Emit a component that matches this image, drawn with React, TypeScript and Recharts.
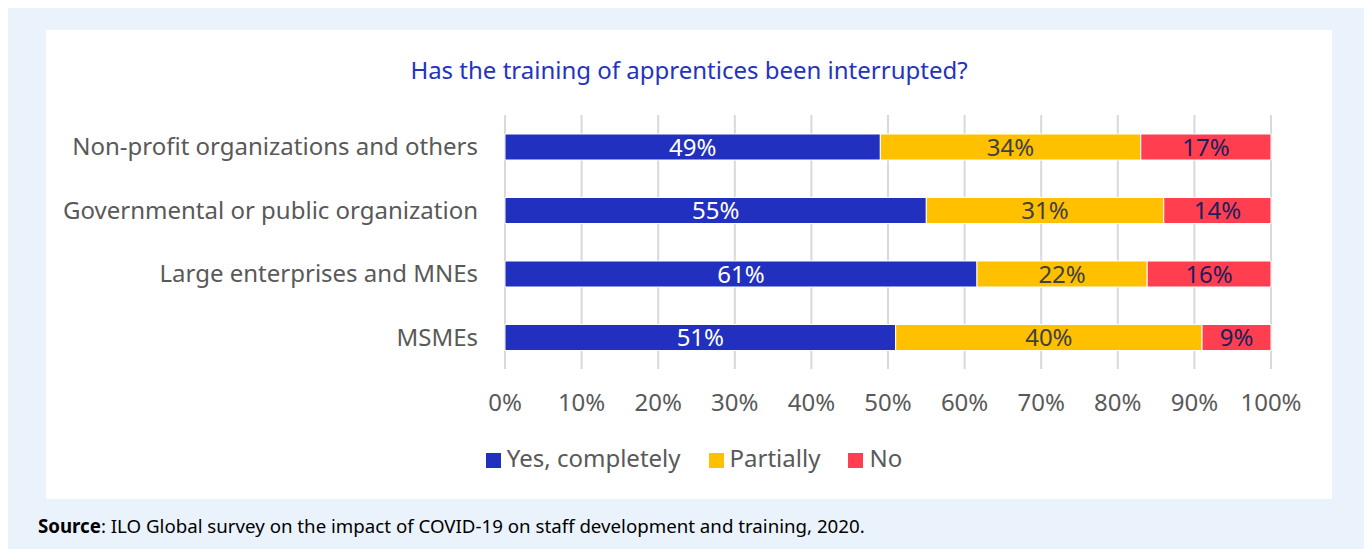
import { Bar, BarChart, CartesianGrid, LabelList, Legend, XAxis, YAxis } from "recharts";

const categories = [
  "Non-profit organizations and others",
  "Governmental or public organization",
  "Large enterprises and MNEs",
  "MSMEs",
];
const yesValues = [49, 55, 61, 51];
const partialValues = [34, 31, 22, 40];
const noValues = [17, 14, 16, 9];
const xTicks = [0, 0.1, 0.2, 0.3, 0.4, 0.5, 0.6, 0.7, 0.8, 0.9, 1];
const seriesNames = ["Yes, completely", "Partially", "No"];

const data = categories.map((name, i) => ({
  name,
  yes: yesValues[i],
  partial: partialValues[i],
  no: noValues[i],
}));

const FONT = "'Noto Sans', 'Open Sans', sans-serif";
const pct = (v: any) => `${v}%`;

export default function App() {
  return (
    <div
      style={{
        position: "relative",
        width: 1362,
        height: 541,
        background: "#EAF3FC",
        fontFamily: FONT,
      }}>
      <div
        style={{
          position: "absolute",
          left: 38,
          top: 22,
          width: 1286,
          height: 469,
          background: "#fff",
        }}>
        <div
          style={{
            position: "absolute",
            top: 23,
            width: "100%",
            textAlign: "center",
            color: "#2433BF",
            fontSize: 24,
          }}>
          Has the training of apprentices been interrupted?
        </div>
        <BarChart
          width={1286}
          height={469}
          data={data}
          layout="vertical"
          stackOffset="expand"
          margin={{ top: 85, right: 61, left: 0, bottom: 22 }}
          style={{ fontFamily: FONT }}>
          <CartesianGrid horizontal={false} stroke="#d9d9d9" strokeWidth={2} />
          <XAxis
            type="number"
            domain={[0, 1]}
            ticks={xTicks}
            tickFormatter={(v: number) => `${Math.round(v * 100)}%`}
            axisLine={false}
            tickLine={false}
            tickSize={0}
            tickMargin={25}
            height={75}
            tick={{ fill: "#595959", fontSize: 24 }}
            interval={0}
          />
          <YAxis
            type="category"
            dataKey="name"
            width={459}
            axisLine={false}
            tickLine={false}
            tickSize={0}
            tickMargin={27}
            tick={{ fill: "#595959", fontSize: 24 }}
            interval={0}
          />
          <Legend
            iconType="square"
            iconSize={15}
            itemSorter={(item: any) => seriesNames.indexOf(item.value)}
            wrapperStyle={{ top: 411, left: 19, width: 1286, fontSize: 24 }}
            formatter={(value: string) => (
              <span style={{ color: "#595959", fontSize: 24, marginLeft: 2, marginRight: 18 }}>{value}</span>
            )}
          />
          <Bar dataKey="yes" name={seriesNames[0]} stackId="a" fill="#2130BE" stroke="#fff" strokeWidth={1} barSize={26} isAnimationActive={false}>
            <LabelList dataKey="yes" position="center" formatter={pct} fill="#ffffff" style={{ fontSize: 24 }} />
          </Bar>
          <Bar dataKey="partial" name={seriesNames[1]} stackId="a" fill="#FFC000" stroke="#fff" strokeWidth={1} barSize={26} isAnimationActive={false}>
            <LabelList dataKey="partial" position="center" formatter={pct} fill="#404040" style={{ fontSize: 24 }} />
          </Bar>
          <Bar dataKey="no" name={seriesNames[2]} stackId="a" fill="#FF3E4F" stroke="#fff" strokeWidth={1} barSize={26} isAnimationActive={false}>
            <LabelList dataKey="no" position="center" formatter={pct} fill="#1B1F5C" style={{ fontSize: 24 }} />
          </Bar>
        </BarChart>
      </div>
      <div
        style={{
          position: "absolute",
          left: 30,
          top: 505,
          fontSize: 18.7,
          color: "#000",
        }}>
        <b>Source</b>: ILO Global survey on the impact of COVID-19 on staff development and training, 2020.
      </div>
    </div>
  );
}
